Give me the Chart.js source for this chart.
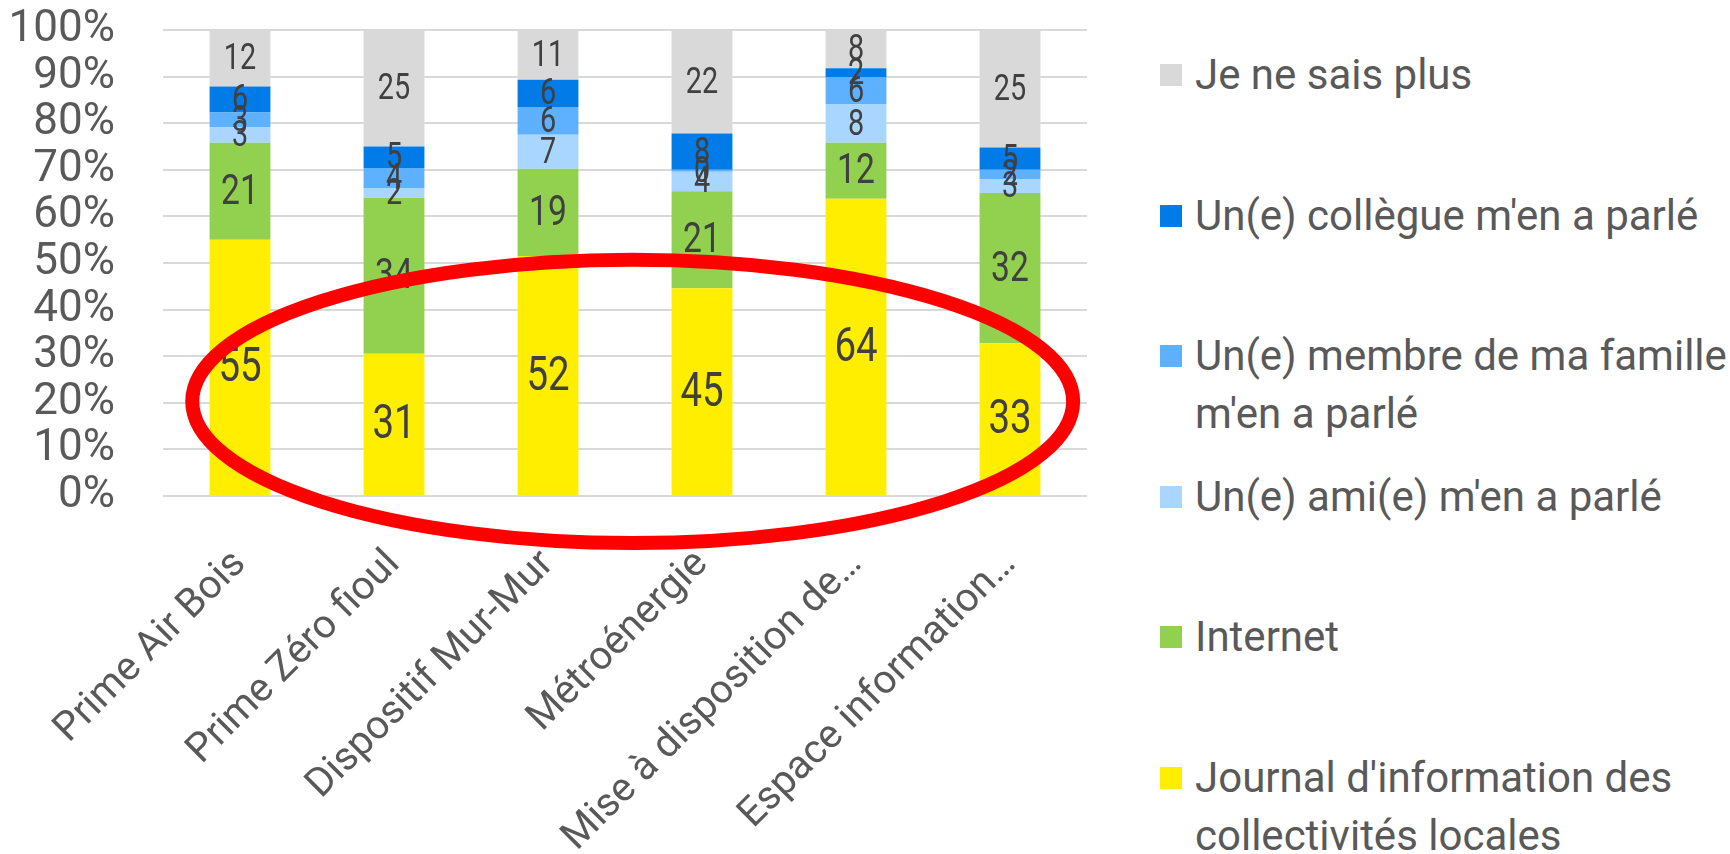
<!DOCTYPE html>
<html lang="fr">
<head>
<meta charset="utf-8">
<script src="https://cdn.jsdelivr.net/npm/chart.js@4.4.1/dist/chart.umd.min.js"></script>
<style>
    html, body { margin: 0; padding: 0; background: #fff; }
    body { width: 1730px; height: 854px; position: relative; overflow: hidden; font-family: Roboto, sans-serif; }
    #wrap { position: absolute; left: 0; top: 0; width: 1150px; height: 854px; }
    #legend { position: absolute; left: 1160px; top: 0; width: 570px; }
    .leg-item { position: absolute; left: 0; display: flex; align-items: flex-start; white-space: nowrap; }
    .leg-box { width: 22px; height: 22px; margin-top: 18px; margin-right: 13px; flex: none; }
    .leg-text { font-size: 42px; line-height: 58px; color: #595959; }
</style>
</head>
<body>
<div id="wrap"><canvas id="chart"></canvas></div>
<div id="legend"></div>

<script>
/* ==============================
   Données (en %)
============================== */
const categories = ['Prime Air Bois', 'Prime Zéro fioul', 'Dispositif Mur-Mur', 'Métroénergie', 'Mise à disposition de…', 'Espace information…'];

const journal  = [55.0, 30.5, 51.5, 44.6, 63.8, 32.8];
const internet = [20.8, 33.5, 18.7, 20.8, 12.0, 32.2];
const ami      = [3.3, 2.1, 7.3, 4.2, 8.2, 3.0];
const membre   = [3.2, 4.3, 6.0, 0.4, 5.8, 2.0];
const collegue = [5.6, 4.6, 5.8, 7.8, 2.0, 4.8];
const neSaisPlus = [12.1, 25.0, 10.7, 22.2, 8.2, 25.2];

const yTicks = [0, 10, 20, 30, 40, 50, 60, 70, 80, 90, 100];

// ordre d'empilement : du bas vers le haut
const series = [
    { label: "Journal d'information des\ncollectivités locales", data: journal,  color: '#FFEE00', size: 48 },
    { label: 'Internet',                                       data: internet, color: '#92D050', size: 42 },
    { label: "Un(e) ami(e) m'en a parlé",                      data: ami,      color: '#A9D6FF', size: 36 },
    { label: "Un(e) membre de ma famille\nm'en a parlé",       data: membre,   color: '#5EB1FF', size: 36 },
    { label: "Un(e) collègue m'en a parlé",                    data: collegue, color: '#007BE7', size: 36 },
    { label: 'Je ne sais plus',                                data: neSaisPlus, color: '#D9D9D9', size: 36 }
];

// ellipse rouge (en unités des axes : index de catégorie / %)
const ellipse = { cx: 2.55, cy: 20.3, rx: 2.86, ry: 30.4 };

const FONT = 'Roboto, sans-serif';

/* ==============================
   Plugins : étiquettes + ellipse
============================== */
const barLabels = {
    id: 'barLabels',
    afterDatasetsDraw(chart) {
        const ctx = chart.ctx;
        chart.data.datasets.forEach((ds, i) => {
            const meta = chart.getDatasetMeta(i);
            meta.data.forEach((bar, j) => {
                const v = ds.data[j];
                ctx.save();
                ctx.fillStyle = '#404040';
                ctx.textAlign = 'center';
                ctx.textBaseline = 'middle';
                ctx.font = series[i].size + 'px ' + FONT;
                // police un peu étroite
                ctx.translate(bar.x, (bar.y + bar.base) / 2 + 2);
                ctx.scale(0.8, 1);
                ctx.fillText(String(Math.round(v)), 0, 0);
                ctx.restore();
            });
        });
    }
};

const redEllipse = {
    id: 'redEllipse',
    afterDraw(chart) {
        const x = chart.scales.x, y = chart.scales.y;
        const cx = x.getPixelForValue(ellipse.cx);
        const cy = y.getPixelForValue(ellipse.cy);
        const rx = x.getPixelForValue(ellipse.cx + ellipse.rx) - cx;
        const ry = cy - y.getPixelForValue(ellipse.cy + ellipse.ry);
        const ctx = chart.ctx;
        ctx.save();
        ctx.strokeStyle = '#FF0000';
        ctx.lineWidth = 14;
        ctx.beginPath();
        ctx.ellipse(cx, cy, rx, ry, 0, 0, Math.PI * 2);
        ctx.stroke();
        ctx.restore();
    }
};

/* ==============================
   Graphique
============================== */
const ctx = document.getElementById('chart');
new Chart(ctx, {
    type: 'bar',
    data: {
        labels: categories,
        datasets: series.map(s => ({
            label: s.label,
            data: s.data,
            backgroundColor: s.color,
            borderWidth: 0,
            barPercentage: 0.395,
            categoryPercentage: 1
        }))
    },
    options: {
        responsive: true,
        maintainAspectRatio: false,
        animation: false,
        layout: { padding: { top: 30, right: 63, left: 0, bottom: 0 } },
        plugins: { legend: { display: false }, tooltip: { enabled: false } },
        scales: {
            x: {
                stacked: true,
                grid: { display: false },
                border: { display: false },
                ticks: {
                    color: '#595959',
                    font: { family: FONT, size: 40 },
                    maxRotation: 45, minRotation: 45,
                    autoSkip: false,
                    padding: 37,
                    labelOffset: 0
                },
                afterFit(scale) { scale.height = 358; }
            },
            y: {
                stacked: true,
                min: 0, max: 100,
                afterBuildTicks(scale) { scale.ticks = yTicks.map(v => ({ value: v })); },
                grid: { color: '#D9D9D9', lineWidth: 2, drawTicks: false },
                border: { display: false },
                ticks: {
                    color: '#595959',
                    font: { family: FONT, size: 44 },
                    padding: 48,
                    autoSkip: false,
                    callback: v => v + '%'
                },
                afterFit(scale) {
                    scale.width = 163;
                    scale.paddingTop = 0;
                    scale.paddingBottom = 0;
                }
            }
        }
    },
    plugins: [barLabels, redEllipse]
});

/* ==============================
   Légende (ordre inversé)
============================== */
const legend = document.getElementById('legend');
series.slice().reverse().forEach((s, i) => {
    const item = document.createElement('div');
    item.className = 'leg-item';
    item.style.top = (46 + i * 140.6) + 'px';
    item.innerHTML = `<div class="leg-box" style="background:${s.color}"></div>
        <div class="leg-text">${s.label.replace('\n', '<br>')}</div>`;
    legend.appendChild(item);
});
</script>
</body>
</html>
